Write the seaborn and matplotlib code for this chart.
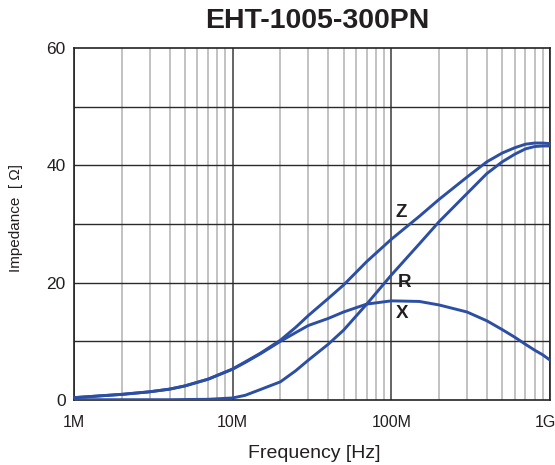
import numpy as np
import pandas as pd
import matplotlib
matplotlib.use("Agg")
import matplotlib.pyplot as plt
import matplotlib.transforms as mtransforms
import seaborn as sns

# --- data (frequency in MHz, impedance in ohm) ---
freq_mhz = [1, 2, 3, 4, 5, 7, 10, 12, 15, 20, 25, 30, 40, 50, 70, 100,
            150, 200, 300, 400, 500, 600, 700, 800, 900, 1000]
z_ohm = [0.4, 0.97, 1.4, 1.85, 2.4, 3.55, 5.3, 6.5, 8.0, 10.2, 12.4, 14.4, 17.3, 19.6, 23.6, 27.4,
         31.3, 34.2, 38.0, 40.6, 42.1, 43.0, 43.6, 43.8, 43.8, 43.7]
r_ohm = [0.05, 0.05, 0.05, 0.05, 0.08, 0.12, 0.35, 0.8, 1.8, 3.1, 5.0, 6.8, 9.5, 11.9, 16.35, 21.3,
         26.6, 30.4, 35.2, 38.6, 40.6, 41.9, 42.8, 43.2, 43.3, 43.3]
x_ohm = [0.4, 0.95, 1.4, 1.85, 2.4, 3.55, 5.25, 6.4, 7.9, 10.0, 11.5, 12.7, 13.9, 15.0, 16.35, 16.9,
         16.8, 16.2, 15.0, 13.5, 12.0, 10.7, 9.5, 8.5, 7.7, 6.8]

x_ticks = [1e6, 1e7, 1e8, 1e9]
x_tick_labels = ["1M", "10M", "100M", "1G"]
y_ticks = [0, 20, 40, 60]

LINE_COLOR = "#2c4ea3"
TEXT_COLOR = "#231f20"

df = pd.DataFrame({"freq": np.array(freq_mhz) * 1e6, "Z": z_ohm, "R": r_ohm, "X": x_ohm})
long_df = df.melt(id_vars="freq", var_name="kind", value_name="imp")

sns.set_style("white")
plt.rcParams["font.family"] = ["Liberation Sans", "DejaVu Sans"]

fig = plt.figure(figsize=(5.55, 4.65), dpi=100)
ax = fig.add_axes([74 / 555, 1 - 400 / 465, 476 / 555, 352 / 465])

# grid: minor log lines light grey, decades and 10-ohm lines dark
for dec in [1e6, 1e7, 1e8]:
    for m in range(2, 10):
        ax.axvline(dec * m, color="#bdbdbd", lw=1.3, zorder=0)
for xv in x_ticks:
    ax.axvline(xv, color="#3a3a3a", lw=1.1, zorder=1)
for yv in range(10, 60, 10):
    ax.axhline(yv, color="#2a2a2a", lw=1.0, zorder=1)

sns.lineplot(data=long_df, x="freq", y="imp", units="kind", estimator=None,
             color=LINE_COLOR, lw=2.1, ax=ax, zorder=3, legend=False)

ax.set_xscale("log")
ax.set_xlim(1e6, 1e9)
ax.set_ylim(0, 60)
ax.set_xticks(x_ticks)
ax.set_xticklabels(x_tick_labels)
ax.xaxis.set_minor_locator(matplotlib.ticker.NullLocator())
ax.set_yticks(y_ticks)
ax.tick_params(axis="x", length=0, labelsize=11.5, colors=TEXT_COLOR, pad=11)
ax.tick_params(axis="y", length=0, labelsize=12.5, colors=TEXT_COLOR, pad=6)
# the last label sits a little left so it stays inside the picture
last = ax.get_xticklabels()[-1]
last.set_transform(last.get_transform() + mtransforms.ScaledTranslation(-0.05, 0, fig.dpi_scale_trans))
for s in ax.spines.values():
    s.set_color("#222222")
    s.set_linewidth(1.2)

ax.set_xlabel("Frequency [Hz]", fontsize=14, color=TEXT_COLOR, va="center")
ax.xaxis.set_label_coords(0.505, (400 - 453) / 352)
ax.set_ylabel("Impedance  [ \u03a9]", fontsize=11, color=TEXT_COLOR, va="center")
ax.yaxis.set_label_coords((16 - 74) / 476, (400 - 218) / 352)
ax.set_title("EHT-1005-300PN", fontsize=20.5, fontweight="bold", color=TEXT_COLOR,
             x=(317 - 74) / 476, y=1 + (48 - 21) / 352, va="center", pad=0)

# curve labels
for lab, xv, yv in [("Z", 1.07e8, 31.9), ("R", 1.09e8, 20.1), ("X", 1.07e8, 14.8)]:
    ax.text(xv, yv, lab, fontsize=13.5, fontweight="bold", color=TEXT_COLOR,
            ha="left", va="center", zorder=4)

fig.savefig("out.png", dpi=100)
